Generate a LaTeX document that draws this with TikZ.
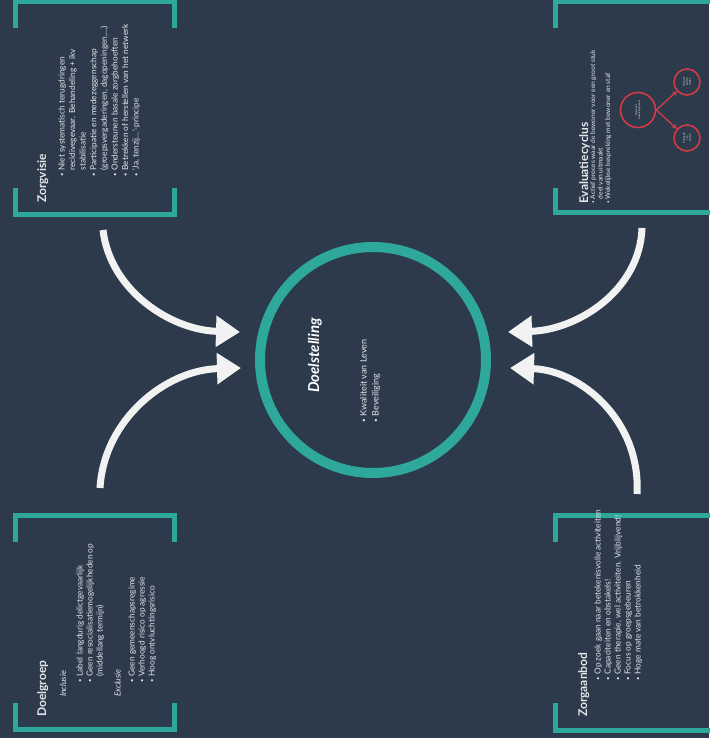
\documentclass[tikz,border=0pt]{standalone}
\usepackage{fontspec}
\setmainfont{Lato}
\usetikzlibrary{arrows.meta}
\definecolor{bgc}{HTML}{2C3A4B}
\definecolor{tealc}{HTML}{2FA89C}
\definecolor{txtc}{HTML}{E4E7EA}
\definecolor{arrw}{HTML}{F2F2F2}
\definecolor{redc}{HTML}{D23A45}
\newcommand{\bul}{\raisebox{0.15ex}{\scalebox{0.7}{•}}}
\begin{document}
\begin{tikzpicture}[x=1pt,y=-1pt,
  frame/.style={draw=tealc, line width=5pt},
  arr/.style={draw=arrw, line width=7pt, -{Triangle[length=24pt,width=30pt]}},
  ttl/.style={text=txtc, font=\fontsize{12}{14}\selectfont\bfseries, inner sep=0, rotate=90, anchor=base west},
  lst/.style={text=txtc, font=\fontsize{8.3}{10.3}\selectfont, inner sep=0, rotate=90, anchor=base west},
  sublbl/.style={text=txtc, font=\fontsize{8.3}{10.3}\selectfont\itshape, inner sep=0, rotate=90, anchor=base west},
  ring/.style={circle, draw=redc, line width=1.6pt, inner sep=0},
  tiny/.style={text=txtc, font=\fontsize{2.6}{3}\selectfont, align=center, rotate=90},
]
\fill[bgc] (0,0) rectangle (709,738);
\useasboundingbox (0,0) rectangle (709,738);

% ---------- frames ----------
\draw[frame] (15.5,28) -- (15.5,1.5) -- (174.5,1.5) -- (174.5,28);
\draw[frame] (15.5,188) -- (15.5,214.5) -- (174.5,214.5) -- (174.5,188);
\draw[frame] (555.5,28) -- (555.5,1.5) -- (712,1.5);
\draw[frame] (555.5,188) -- (555.5,212.5) -- (712,212.5);
\draw[frame] (15.5,542) -- (15.5,515.5) -- (174.5,515.5) -- (174.5,542);
\draw[frame] (15.5,703) -- (15.5,729.5) -- (174.5,729.5) -- (174.5,703);
\draw[frame] (555.5,542) -- (555.5,515.5) -- (712,515.5);
\draw[frame] (555.5,703) -- (555.5,730.5) -- (712,730.5);

% ---------- centre ----------
\node[circle, draw=tealc, line width=10pt, minimum size=226pt, inner sep=0] (goal) at (373,360) {};
\node[rotate=90, anchor=base west, inner sep=0, text=white,
      font=\fontsize{15}{18}\selectfont\bfseries\itshape] (goalttl) at (319,393) {Doelstelling};
\node[lst, font=\fontsize{9}{12}\selectfont] (goallst) at (366.5,423) {%
  \begin{tabular}[t]{@{}l@{\hspace{3pt}}l@{}}
  \bul & Kwaliteit van Leven\\
  \bul & Beveiliging
  \end{tabular}};

% ---------- Zorgvisie ----------
\node[ttl] (zvt) at (46,203) {Zorgvisie};
\node[lst, font=\fontsize{8.3}{10.6}\selectfont] (zvl) at (64.5,177) {%
  \begin{tabular}[t]{@{}l@{\hspace{3pt}}l@{}}
  \bul & Niet systematisch terugdringen\\
       & recidivegevaar. Behandeling + ikv\\
       & stabilisatie\\
  \bul & Participatie en medezeggenschap\\
       & (groepsvergaderingen, dagopeningen,…)\\
  \bul & Ondersteunen basale zorgbehoeften\\
  \bul & Betrekken of herstellen van het netwerk\\
  \bul & ‘Ja, tenzij…’-principe
  \end{tabular}};

% ---------- Evaluatiecyclus ----------
\node[ttl] (evt) at (588,204) {Evaluatiecyclus};
\node[lst, font=\fontsize{6.6}{7.6}\selectfont] (evl) at (595,204) {%
  \begin{tabular}[t]{@{}l@{\hspace{2pt}}l@{}}
  \bul & Actief proces waar de bewoner voor een groot stuk\\
       & deel van uitmaakt\\
  \bul & Wekelijkse bespreking met bewoner en staf
  \end{tabular}};
\node[ring, minimum size=35pt] (ev0) at (638,110) {};
\node[ring, minimum size=26pt] (ev1) at (687,82) {};
\node[ring, minimum size=26pt] (ev2) at (687,138) {};
\node[tiny] (ev0t) at (ev0) {Bewoner\\bespreking team};
\node[tiny] (ev1t) at (ev1) {Nieuwe\\doelen\\stellen};
\node[tiny] (ev2t) at (ev2) {Evaluatie\\van\\doelen};
\draw[redc, line width=1.3pt, -{Triangle[length=4pt,width=4.5pt]}] (ev0.east) -- (ev1);
\draw[redc, line width=1.3pt, -{Triangle[length=4pt,width=4.5pt]}] (ev0.east) -- (ev2);

% ---------- Doelgroep ----------
\node[ttl] (dgt) at (46,717) {Doelgroep};
\node[sublbl] (dgi) at (66,697) {Inclusie};
\node[lst, font=\fontsize{8.3}{10}\selectfont] (dgil) at (82.5,683) {%
  \begin{tabular}[t]{@{}l@{\hspace{3pt}}l@{}}
  \bul & Label langdurig delictgevaarlijk\\
  \bul & Geen resocialisatiemogelijkheden op\\
       & (middellang termijn)
  \end{tabular}};
\node[sublbl] (dge) at (120.5,697) {Exclusie};
\node[lst, font=\fontsize{8.3}{10}\selectfont] (dgel) at (134.5,683) {%
  \begin{tabular}[t]{@{}l@{\hspace{3pt}}l@{}}
  \bul & Geen gemeenschapsregime\\
  \bul & Verhoogd risico op agressie\\
  \bul & Hoog ontvluchtingsrisico
  \end{tabular}};

% ---------- Zorgaanbod ----------
\node[ttl] (zat) at (587,717) {Zorgaanbod};
\node[lst, font=\fontsize{8.3}{10}\selectfont] (zal) at (600.5,681) {%
  \begin{tabular}[t]{@{}l@{\hspace{3pt}}l@{}}
  \bul & Op zoek gaan naar betekenisvolle activiteiten\\
  \bul & Capaciteiten en obstakels!\\
  \bul & Geen therapie, wel activiteiten. Vrijblijvend!\\
  \bul & Focus op groepsgebeuren\\
  \bul & Hoge mate van betrokkenheid
  \end{tabular}};

% ---------- arrows ----------
\coordinate (a1s) at (103,230);  \coordinate (a1e) at (240,332);
\coordinate (a2s) at (100,488);  \coordinate (a2e) at (241,368);
\coordinate (a3s) at (642,228);  \coordinate (a3e) at (508,332);
\coordinate (a4s) at (637,494);  \coordinate (a4e) at (510,368);
\draw[arr] (a1s) .. controls (110,290) and (170,330) .. (a1e);
\draw[arr] (a2s) .. controls (104,420) and (165,370) .. (a2e);
\draw[arr] (a3s) .. controls (640,290) and (578,330) .. (a3e);
\draw[arr] (a4s) .. controls (641,420) and (580,370) .. (a4e);
\end{tikzpicture}
\end{document}
